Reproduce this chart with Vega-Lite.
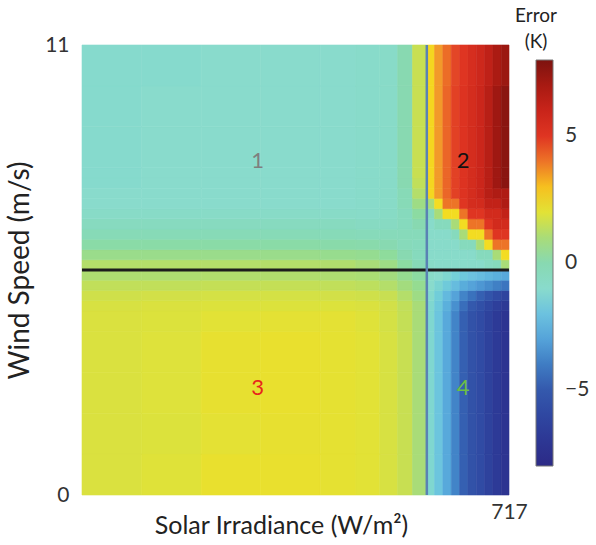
{
"$schema": "https://vega.github.io/schema/vega-lite/v6.json",
"width": 427, "height": 450,
"autosize": {"type": "none"},
"padding": {"left": 82, "top": 45, "right": 87, "bottom": 50},
"background": "white",
"config": {"view": {"stroke": null}, "font": "Lato"},
"layer": [
{
"data": {"values": [
{"x0":0,"x1":100,"y0":0,"y1":1,"e":1.85},{"x0":100,"x1":200,"y0":0,"y1":1,"e":1.95},{"x0":200,"x1":300,"y0":0,"y1":1,"e":2.2},{"x0":300,"x1":400,"y0":0,"y1":1,"e":2.2},{"x0":400,"x1":460,"y0":0,"y1":1,"e":2.1},{"x0":460,"x1":500,"y0":0,"y1":1,"e":2.0},{"x0":500,"x1":530,"y0":0,"y1":1,"e":1.8},{"x0":530,"x1":555,"y0":0,"y1":1,"e":1.5},{"x0":555,"x1":579,"y0":0,"y1":1,"e":1.0},{"x0":579,"x1":592,"y0":0,"y1":1,"e":-1.2},{"x0":592,"x1":606,"y0":0,"y1":1,"e":-1.9},{"x0":606,"x1":620,"y0":0,"y1":1,"e":-2.8},{"x0":620,"x1":634,"y0":0,"y1":1,"e":-3.8},{"x0":634,"x1":648,"y0":0,"y1":1,"e":-4.8},{"x0":648,"x1":662,"y0":0,"y1":1,"e":-5.4},{"x0":662,"x1":676,"y0":0,"y1":1,"e":-5.8},{"x0":676,"x1":690,"y0":0,"y1":1,"e":-6.3},{"x0":690,"x1":704,"y0":0,"y1":1,"e":-6.8},{"x0":704,"x1":717,"y0":0,"y1":1,"e":-7.2},
{"x0":0,"x1":100,"y0":1,"y1":2,"e":1.85},{"x0":100,"x1":200,"y0":1,"y1":2,"e":1.9},{"x0":200,"x1":300,"y0":1,"y1":2,"e":2.05},{"x0":300,"x1":400,"y0":1,"y1":2,"e":2.15},{"x0":400,"x1":460,"y0":1,"y1":2,"e":2.1},{"x0":460,"x1":500,"y0":1,"y1":2,"e":2.0},{"x0":500,"x1":530,"y0":1,"y1":2,"e":1.8},{"x0":530,"x1":555,"y0":1,"y1":2,"e":1.5},{"x0":555,"x1":579,"y0":1,"y1":2,"e":1.0},{"x0":579,"x1":592,"y0":1,"y1":2,"e":-1.2},{"x0":592,"x1":606,"y0":1,"y1":2,"e":-1.9},{"x0":606,"x1":620,"y0":1,"y1":2,"e":-2.8},{"x0":620,"x1":634,"y0":1,"y1":2,"e":-3.8},{"x0":634,"x1":648,"y0":1,"y1":2,"e":-4.8},{"x0":648,"x1":662,"y0":1,"y1":2,"e":-5.4},{"x0":662,"x1":676,"y0":1,"y1":2,"e":-5.8},{"x0":676,"x1":690,"y0":1,"y1":2,"e":-6.3},{"x0":690,"x1":704,"y0":1,"y1":2,"e":-6.8},{"x0":704,"x1":717,"y0":1,"y1":2,"e":-7.2},
{"x0":0,"x1":100,"y0":2,"y1":3,"e":1.85},{"x0":100,"x1":200,"y0":2,"y1":3,"e":1.92},{"x0":200,"x1":300,"y0":2,"y1":3,"e":2.15},{"x0":300,"x1":400,"y0":2,"y1":3,"e":2.2},{"x0":400,"x1":460,"y0":2,"y1":3,"e":2.1},{"x0":460,"x1":500,"y0":2,"y1":3,"e":2.0},{"x0":500,"x1":530,"y0":2,"y1":3,"e":1.8},{"x0":530,"x1":555,"y0":2,"y1":3,"e":1.5},{"x0":555,"x1":579,"y0":2,"y1":3,"e":1.0},{"x0":579,"x1":592,"y0":2,"y1":3,"e":-1.2},{"x0":592,"x1":606,"y0":2,"y1":3,"e":-1.9},{"x0":606,"x1":620,"y0":2,"y1":3,"e":-2.8},{"x0":620,"x1":634,"y0":2,"y1":3,"e":-3.8},{"x0":634,"x1":648,"y0":2,"y1":3,"e":-4.8},{"x0":648,"x1":662,"y0":2,"y1":3,"e":-5.4},{"x0":662,"x1":676,"y0":2,"y1":3,"e":-5.8},{"x0":676,"x1":690,"y0":2,"y1":3,"e":-6.3},{"x0":690,"x1":704,"y0":2,"y1":3,"e":-6.8},{"x0":704,"x1":717,"y0":2,"y1":3,"e":-7.2},
{"x0":0,"x1":100,"y0":3,"y1":4,"e":1.85},{"x0":100,"x1":200,"y0":3,"y1":4,"e":1.92},{"x0":200,"x1":300,"y0":3,"y1":4,"e":2.15},{"x0":300,"x1":400,"y0":3,"y1":4,"e":2.2},{"x0":400,"x1":460,"y0":3,"y1":4,"e":2.1},{"x0":460,"x1":500,"y0":3,"y1":4,"e":2.0},{"x0":500,"x1":530,"y0":3,"y1":4,"e":1.8},{"x0":530,"x1":555,"y0":3,"y1":4,"e":1.5},{"x0":555,"x1":579,"y0":3,"y1":4,"e":1.0},{"x0":579,"x1":592,"y0":3,"y1":4,"e":-1.2},{"x0":592,"x1":606,"y0":3,"y1":4,"e":-1.9},{"x0":606,"x1":620,"y0":3,"y1":4,"e":-2.8},{"x0":620,"x1":634,"y0":3,"y1":4,"e":-3.8},{"x0":634,"x1":648,"y0":3,"y1":4,"e":-4.8},{"x0":648,"x1":662,"y0":3,"y1":4,"e":-5.4},{"x0":662,"x1":676,"y0":3,"y1":4,"e":-5.8},{"x0":676,"x1":690,"y0":3,"y1":4,"e":-6.3},{"x0":690,"x1":704,"y0":3,"y1":4,"e":-6.8},{"x0":704,"x1":717,"y0":3,"y1":4,"e":-7.2},
{"x0":0,"x1":100,"y0":4,"y1":4.5,"e":1.85},{"x0":100,"x1":200,"y0":4,"y1":4.5,"e":1.9},{"x0":200,"x1":300,"y0":4,"y1":4.5,"e":2.0},{"x0":300,"x1":400,"y0":4,"y1":4.5,"e":2.05},{"x0":400,"x1":460,"y0":4,"y1":4.5,"e":2.05},{"x0":460,"x1":500,"y0":4,"y1":4.5,"e":1.95},{"x0":500,"x1":530,"y0":4,"y1":4.5,"e":1.75},{"x0":530,"x1":555,"y0":4,"y1":4.5,"e":1.45},{"x0":555,"x1":579,"y0":4,"y1":4.5,"e":1.0},{"x0":579,"x1":592,"y0":4,"y1":4.5,"e":-1.2},{"x0":592,"x1":606,"y0":4,"y1":4.5,"e":-1.9},{"x0":606,"x1":620,"y0":4,"y1":4.5,"e":-2.8},{"x0":620,"x1":634,"y0":4,"y1":4.5,"e":-3.8},{"x0":634,"x1":648,"y0":4,"y1":4.5,"e":-4.8},{"x0":648,"x1":662,"y0":4,"y1":4.5,"e":-5.4},{"x0":662,"x1":676,"y0":4,"y1":4.5,"e":-5.8},{"x0":676,"x1":690,"y0":4,"y1":4.5,"e":-6.3},{"x0":690,"x1":704,"y0":4,"y1":4.5,"e":-6.8},{"x0":704,"x1":717,"y0":4,"y1":4.5,"e":-7.2},
{"x0":0,"x1":100,"y0":4.5,"y1":4.75,"e":1.8},{"x0":100,"x1":200,"y0":4.5,"y1":4.75,"e":1.85},{"x0":200,"x1":300,"y0":4.5,"y1":4.75,"e":1.9},{"x0":300,"x1":400,"y0":4.5,"y1":4.75,"e":1.9},{"x0":400,"x1":460,"y0":4.5,"y1":4.75,"e":1.9},{"x0":460,"x1":500,"y0":4.5,"y1":4.75,"e":1.85},{"x0":500,"x1":530,"y0":4.5,"y1":4.75,"e":1.7},{"x0":530,"x1":555,"y0":4.5,"y1":4.75,"e":1.4},{"x0":555,"x1":579,"y0":4.5,"y1":4.75,"e":1.0},{"x0":579,"x1":592,"y0":4.5,"y1":4.75,"e":-1.2},{"x0":592,"x1":606,"y0":4.5,"y1":4.75,"e":-1.8},{"x0":606,"x1":620,"y0":4.5,"y1":4.75,"e":-2.6},{"x0":620,"x1":634,"y0":4.5,"y1":4.75,"e":-3.5},{"x0":634,"x1":648,"y0":4.5,"y1":4.75,"e":-4.4},{"x0":648,"x1":662,"y0":4.5,"y1":4.75,"e":-5.0},{"x0":662,"x1":676,"y0":4.5,"y1":4.75,"e":-5.5},{"x0":676,"x1":690,"y0":4.5,"y1":4.75,"e":-6.0},{"x0":690,"x1":704,"y0":4.5,"y1":4.75,"e":-6.5},{"x0":704,"x1":717,"y0":4.5,"y1":4.75,"e":-6.9},
{"x0":0,"x1":100,"y0":4.75,"y1":5,"e":1.65},{"x0":100,"x1":200,"y0":4.75,"y1":5,"e":1.7},{"x0":200,"x1":300,"y0":4.75,"y1":5,"e":1.75},{"x0":300,"x1":400,"y0":4.75,"y1":5,"e":1.75},{"x0":400,"x1":460,"y0":4.75,"y1":5,"e":1.7},{"x0":460,"x1":500,"y0":4.75,"y1":5,"e":1.65},{"x0":500,"x1":530,"y0":4.75,"y1":5,"e":1.5},{"x0":530,"x1":555,"y0":4.75,"y1":5,"e":1.2},{"x0":555,"x1":579,"y0":4.75,"y1":5,"e":0.8},{"x0":579,"x1":592,"y0":4.75,"y1":5,"e":-1.1},{"x0":592,"x1":606,"y0":4.75,"y1":5,"e":-1.6},{"x0":606,"x1":620,"y0":4.75,"y1":5,"e":-2.3},{"x0":620,"x1":634,"y0":4.75,"y1":5,"e":-3.0},{"x0":634,"x1":648,"y0":4.75,"y1":5,"e":-3.8},{"x0":648,"x1":662,"y0":4.75,"y1":5,"e":-4.3},{"x0":662,"x1":676,"y0":4.75,"y1":5,"e":-4.8},{"x0":676,"x1":690,"y0":4.75,"y1":5,"e":-5.3},{"x0":690,"x1":704,"y0":4.75,"y1":5,"e":-5.8},{"x0":704,"x1":717,"y0":4.75,"y1":5,"e":-6.2},
{"x0":0,"x1":100,"y0":5,"y1":5.25,"e":1.4},{"x0":100,"x1":200,"y0":5,"y1":5.25,"e":1.4},{"x0":200,"x1":300,"y0":5,"y1":5.25,"e":1.45},{"x0":300,"x1":400,"y0":5,"y1":5.25,"e":1.45},{"x0":400,"x1":460,"y0":5,"y1":5.25,"e":1.4},{"x0":460,"x1":500,"y0":5,"y1":5.25,"e":1.35},{"x0":500,"x1":530,"y0":5,"y1":5.25,"e":1.2},{"x0":530,"x1":555,"y0":5,"y1":5.25,"e":0.9},{"x0":555,"x1":579,"y0":5,"y1":5.25,"e":0.6},{"x0":579,"x1":592,"y0":5,"y1":5.25,"e":-1.0},{"x0":592,"x1":606,"y0":5,"y1":5.25,"e":-1.3},{"x0":606,"x1":620,"y0":5,"y1":5.25,"e":-1.7},{"x0":620,"x1":634,"y0":5,"y1":5.25,"e":-2.2},{"x0":634,"x1":648,"y0":5,"y1":5.25,"e":-2.7},{"x0":648,"x1":662,"y0":5,"y1":5.25,"e":-3.0},{"x0":662,"x1":676,"y0":5,"y1":5.25,"e":-3.3},{"x0":676,"x1":690,"y0":5,"y1":5.25,"e":-3.6},{"x0":690,"x1":704,"y0":5,"y1":5.25,"e":-3.9},{"x0":704,"x1":717,"y0":5,"y1":5.25,"e":-4.2},
{"x0":0,"x1":100,"y0":5.25,"y1":5.5,"e":1.1},{"x0":100,"x1":200,"y0":5.25,"y1":5.5,"e":1.1},{"x0":200,"x1":300,"y0":5.25,"y1":5.5,"e":1.15},{"x0":300,"x1":400,"y0":5.25,"y1":5.5,"e":1.15},{"x0":400,"x1":460,"y0":5.25,"y1":5.5,"e":1.1},{"x0":460,"x1":500,"y0":5.25,"y1":5.5,"e":1.05},{"x0":500,"x1":530,"y0":5.25,"y1":5.5,"e":0.9},{"x0":530,"x1":555,"y0":5.25,"y1":5.5,"e":0.6},{"x0":555,"x1":579,"y0":5.25,"y1":5.5,"e":0.3},{"x0":579,"x1":592,"y0":5.25,"y1":5.5,"e":-0.8},{"x0":592,"x1":606,"y0":5.25,"y1":5.5,"e":-1.0},{"x0":606,"x1":620,"y0":5.25,"y1":5.5,"e":-1.2},{"x0":620,"x1":634,"y0":5.25,"y1":5.5,"e":-1.5},{"x0":634,"x1":648,"y0":5.25,"y1":5.5,"e":-1.8},{"x0":648,"x1":662,"y0":5.25,"y1":5.5,"e":-2.0},{"x0":662,"x1":676,"y0":5.25,"y1":5.5,"e":-2.2},{"x0":676,"x1":690,"y0":5.25,"y1":5.5,"e":-2.4},{"x0":690,"x1":704,"y0":5.25,"y1":5.5,"e":-2.6},{"x0":704,"x1":717,"y0":5.25,"y1":5.5,"e":-2.8},
{"x0":0,"x1":100,"y0":5.5,"y1":5.75,"e":1.2},{"x0":100,"x1":200,"y0":5.5,"y1":5.75,"e":1.2},{"x0":200,"x1":300,"y0":5.5,"y1":5.75,"e":1.2},{"x0":300,"x1":400,"y0":5.5,"y1":5.75,"e":1.2},{"x0":400,"x1":460,"y0":5.5,"y1":5.75,"e":1.15},{"x0":460,"x1":500,"y0":5.5,"y1":5.75,"e":1.0},{"x0":500,"x1":530,"y0":5.5,"y1":5.75,"e":0.8},{"x0":530,"x1":555,"y0":5.5,"y1":5.75,"e":0.3},{"x0":555,"x1":579,"y0":5.5,"y1":5.75,"e":-0.2},{"x0":579,"x1":592,"y0":5.5,"y1":5.75,"e":-0.8},{"x0":592,"x1":606,"y0":5.5,"y1":5.75,"e":-0.9},{"x0":606,"x1":620,"y0":5.5,"y1":5.75,"e":-0.9},{"x0":620,"x1":634,"y0":5.5,"y1":5.75,"e":-0.9},{"x0":634,"x1":648,"y0":5.5,"y1":5.75,"e":-0.9},{"x0":648,"x1":662,"y0":5.5,"y1":5.75,"e":-0.9},{"x0":662,"x1":676,"y0":5.5,"y1":5.75,"e":-0.9},{"x0":676,"x1":690,"y0":5.5,"y1":5.75,"e":-0.6},{"x0":690,"x1":704,"y0":5.5,"y1":5.75,"e":-0.4},{"x0":704,"x1":717,"y0":5.5,"y1":5.75,"e":1.0},
{"x0":0,"x1":100,"y0":5.75,"y1":6,"e":0.7},{"x0":100,"x1":200,"y0":5.75,"y1":6,"e":0.7},{"x0":200,"x1":300,"y0":5.75,"y1":6,"e":0.7},{"x0":300,"x1":400,"y0":5.75,"y1":6,"e":0.7},{"x0":400,"x1":460,"y0":5.75,"y1":6,"e":0.65},{"x0":460,"x1":500,"y0":5.75,"y1":6,"e":0.6},{"x0":500,"x1":530,"y0":5.75,"y1":6,"e":0.4},{"x0":530,"x1":555,"y0":5.75,"y1":6,"e":0.0},{"x0":555,"x1":579,"y0":5.75,"y1":6,"e":-0.4},{"x0":579,"x1":592,"y0":5.75,"y1":6,"e":-0.9},{"x0":592,"x1":606,"y0":5.75,"y1":6,"e":-0.9},{"x0":606,"x1":620,"y0":5.75,"y1":6,"e":-0.9},{"x0":620,"x1":634,"y0":5.75,"y1":6,"e":-0.9},{"x0":634,"x1":648,"y0":5.75,"y1":6,"e":-0.9},{"x0":648,"x1":662,"y0":5.75,"y1":6,"e":-0.9},{"x0":662,"x1":676,"y0":5.75,"y1":6,"e":-0.4},{"x0":676,"x1":690,"y0":5.75,"y1":6,"e":-0.4},{"x0":690,"x1":704,"y0":5.75,"y1":6,"e":1.0},{"x0":704,"x1":717,"y0":5.75,"y1":6,"e":2.5},
{"x0":0,"x1":100,"y0":6,"y1":6.25,"e":0.2},{"x0":100,"x1":200,"y0":6,"y1":6.25,"e":0.2},{"x0":200,"x1":300,"y0":6,"y1":6.25,"e":0.2},{"x0":300,"x1":400,"y0":6,"y1":6.25,"e":0.2},{"x0":400,"x1":460,"y0":6,"y1":6.25,"e":0.15},{"x0":460,"x1":500,"y0":6,"y1":6.25,"e":0.1},{"x0":500,"x1":530,"y0":6,"y1":6.25,"e":0.0},{"x0":530,"x1":555,"y0":6,"y1":6.25,"e":-0.3},{"x0":555,"x1":579,"y0":6,"y1":6.25,"e":-0.4},{"x0":579,"x1":592,"y0":6,"y1":6.25,"e":-0.9},{"x0":592,"x1":606,"y0":6,"y1":6.25,"e":-0.9},{"x0":606,"x1":620,"y0":6,"y1":6.25,"e":-0.9},{"x0":620,"x1":634,"y0":6,"y1":6.25,"e":-0.9},{"x0":634,"x1":648,"y0":6,"y1":6.25,"e":-0.4},{"x0":648,"x1":662,"y0":6,"y1":6.25,"e":-0.4},{"x0":662,"x1":676,"y0":6,"y1":6.25,"e":1.0},{"x0":676,"x1":690,"y0":6,"y1":6.25,"e":2.5},{"x0":690,"x1":704,"y0":6,"y1":6.25,"e":4.0},{"x0":704,"x1":717,"y0":6,"y1":6.25,"e":4.0},
{"x0":0,"x1":100,"y0":6.25,"y1":6.5,"e":-0.2},{"x0":100,"x1":200,"y0":6.25,"y1":6.5,"e":-0.2},{"x0":200,"x1":300,"y0":6.25,"y1":6.5,"e":-0.2},{"x0":300,"x1":400,"y0":6.25,"y1":6.5,"e":-0.2},{"x0":400,"x1":460,"y0":6.25,"y1":6.5,"e":-0.25},{"x0":460,"x1":500,"y0":6.25,"y1":6.5,"e":-0.3},{"x0":500,"x1":530,"y0":6.25,"y1":6.5,"e":-0.3},{"x0":530,"x1":555,"y0":6.25,"y1":6.5,"e":-0.3},{"x0":555,"x1":579,"y0":6.25,"y1":6.5,"e":-0.3},{"x0":579,"x1":592,"y0":6.25,"y1":6.5,"e":-0.9},{"x0":592,"x1":606,"y0":6.25,"y1":6.5,"e":-0.9},{"x0":606,"x1":620,"y0":6.25,"y1":6.5,"e":-0.9},{"x0":620,"x1":634,"y0":6.25,"y1":6.5,"e":-0.4},{"x0":634,"x1":648,"y0":6.25,"y1":6.5,"e":1.0},{"x0":648,"x1":662,"y0":6.25,"y1":6.5,"e":2.5},{"x0":662,"x1":676,"y0":6.25,"y1":6.5,"e":2.5},{"x0":676,"x1":690,"y0":6.25,"y1":6.5,"e":4.0},{"x0":690,"x1":704,"y0":6.25,"y1":6.5,"e":5.0},{"x0":704,"x1":717,"y0":6.25,"y1":6.5,"e":5.0},
{"x0":0,"x1":100,"y0":6.5,"y1":6.75,"e":-0.5},{"x0":100,"x1":200,"y0":6.5,"y1":6.75,"e":-0.5},{"x0":200,"x1":300,"y0":6.5,"y1":6.75,"e":-0.5},{"x0":300,"x1":400,"y0":6.5,"y1":6.75,"e":-0.5},{"x0":400,"x1":460,"y0":6.5,"y1":6.75,"e":-0.5},{"x0":460,"x1":500,"y0":6.5,"y1":6.75,"e":-0.6},{"x0":500,"x1":530,"y0":6.5,"y1":6.75,"e":-0.6},{"x0":530,"x1":555,"y0":6.5,"y1":6.75,"e":-0.4},{"x0":555,"x1":579,"y0":6.5,"y1":6.75,"e":0.0},{"x0":579,"x1":592,"y0":6.5,"y1":6.75,"e":-0.9},{"x0":592,"x1":606,"y0":6.5,"y1":6.75,"e":-0.4},{"x0":606,"x1":620,"y0":6.5,"y1":6.75,"e":-0.4},{"x0":620,"x1":634,"y0":6.5,"y1":6.75,"e":1.0},{"x0":634,"x1":648,"y0":6.5,"y1":6.75,"e":2.5},{"x0":648,"x1":662,"y0":6.5,"y1":6.75,"e":4.0},{"x0":662,"x1":676,"y0":6.5,"y1":6.75,"e":4.0},{"x0":676,"x1":690,"y0":6.5,"y1":6.75,"e":5.0},{"x0":690,"x1":704,"y0":6.5,"y1":6.75,"e":5.6},{"x0":704,"x1":717,"y0":6.5,"y1":6.75,"e":5.6},
{"x0":0,"x1":100,"y0":6.75,"y1":7,"e":-0.8},{"x0":100,"x1":200,"y0":6.75,"y1":7,"e":-0.8},{"x0":200,"x1":300,"y0":6.75,"y1":7,"e":-0.8},{"x0":300,"x1":400,"y0":6.75,"y1":7,"e":-0.8},{"x0":400,"x1":460,"y0":6.75,"y1":7,"e":-0.8},{"x0":460,"x1":500,"y0":6.75,"y1":7,"e":-0.85},{"x0":500,"x1":530,"y0":6.75,"y1":7,"e":-0.7},{"x0":530,"x1":555,"y0":6.75,"y1":7,"e":-0.4},{"x0":555,"x1":579,"y0":6.75,"y1":7,"e":0.3},{"x0":579,"x1":592,"y0":6.75,"y1":7,"e":-0.4},{"x0":592,"x1":606,"y0":6.75,"y1":7,"e":1.0},{"x0":606,"x1":620,"y0":6.75,"y1":7,"e":2.5},{"x0":620,"x1":634,"y0":6.75,"y1":7,"e":2.5},{"x0":634,"x1":648,"y0":6.75,"y1":7,"e":4.0},{"x0":648,"x1":662,"y0":6.75,"y1":7,"e":5.0},{"x0":662,"x1":676,"y0":6.75,"y1":7,"e":5.0},{"x0":676,"x1":690,"y0":6.75,"y1":7,"e":5.6},{"x0":690,"x1":704,"y0":6.75,"y1":7,"e":5.6},{"x0":704,"x1":717,"y0":6.75,"y1":7,"e":6.2},
{"x0":0,"x1":100,"y0":7,"y1":7.25,"e":-1.0},{"x0":100,"x1":200,"y0":7,"y1":7.25,"e":-1.0},{"x0":200,"x1":300,"y0":7,"y1":7.25,"e":-1.0},{"x0":300,"x1":400,"y0":7,"y1":7.25,"e":-1.0},{"x0":400,"x1":460,"y0":7,"y1":7.25,"e":-1.0},{"x0":460,"x1":500,"y0":7,"y1":7.25,"e":-0.9},{"x0":500,"x1":530,"y0":7,"y1":7.25,"e":-0.8},{"x0":530,"x1":555,"y0":7,"y1":7.25,"e":-0.2},{"x0":555,"x1":579,"y0":7,"y1":7.25,"e":0.8},{"x0":579,"x1":592,"y0":7,"y1":7.25,"e":1.0},{"x0":592,"x1":606,"y0":7,"y1":7.25,"e":2.5},{"x0":606,"x1":620,"y0":7,"y1":7.25,"e":4.0},{"x0":620,"x1":634,"y0":7,"y1":7.25,"e":4.0},{"x0":634,"x1":648,"y0":7,"y1":7.25,"e":5.0},{"x0":648,"x1":662,"y0":7,"y1":7.25,"e":5.5},{"x0":662,"x1":676,"y0":7,"y1":7.25,"e":5.6},{"x0":676,"x1":690,"y0":7,"y1":7.25,"e":6.2},{"x0":690,"x1":704,"y0":7,"y1":7.25,"e":6.2},{"x0":704,"x1":717,"y0":7,"y1":7.25,"e":6.8},
{"x0":0,"x1":100,"y0":7.25,"y1":7.5,"e":-1.0},{"x0":100,"x1":200,"y0":7.25,"y1":7.5,"e":-1.0},{"x0":200,"x1":300,"y0":7.25,"y1":7.5,"e":-1.0},{"x0":300,"x1":400,"y0":7.25,"y1":7.5,"e":-1.0},{"x0":400,"x1":460,"y0":7.25,"y1":7.5,"e":-1.0},{"x0":460,"x1":500,"y0":7.25,"y1":7.5,"e":-0.9},{"x0":500,"x1":530,"y0":7.25,"y1":7.5,"e":-0.8},{"x0":530,"x1":555,"y0":7.25,"y1":7.5,"e":-0.2},{"x0":555,"x1":579,"y0":7.25,"y1":7.5,"e":1.2},{"x0":579,"x1":592,"y0":7.25,"y1":7.5,"e":2.6},{"x0":592,"x1":606,"y0":7.25,"y1":7.5,"e":3.5},{"x0":606,"x1":620,"y0":7.25,"y1":7.5,"e":4.2},{"x0":620,"x1":634,"y0":7.25,"y1":7.5,"e":4.8},{"x0":634,"x1":648,"y0":7.25,"y1":7.5,"e":5.1},{"x0":648,"x1":662,"y0":7.25,"y1":7.5,"e":5.5},{"x0":662,"x1":676,"y0":7.25,"y1":7.5,"e":5.9},{"x0":676,"x1":690,"y0":7.25,"y1":7.5,"e":6.5},{"x0":690,"x1":704,"y0":7.25,"y1":7.5,"e":6.8},{"x0":704,"x1":717,"y0":7.25,"y1":7.5,"e":6.8},
{"x0":0,"x1":100,"y0":7.5,"y1":7.75,"e":-1.05},{"x0":100,"x1":200,"y0":7.5,"y1":7.75,"e":-1.0},{"x0":200,"x1":300,"y0":7.5,"y1":7.75,"e":-1.0},{"x0":300,"x1":400,"y0":7.5,"y1":7.75,"e":-1.0},{"x0":400,"x1":460,"y0":7.5,"y1":7.75,"e":-1.0},{"x0":460,"x1":500,"y0":7.5,"y1":7.75,"e":-0.9},{"x0":500,"x1":530,"y0":7.5,"y1":7.75,"e":-0.85},{"x0":530,"x1":555,"y0":7.5,"y1":7.75,"e":0.0},{"x0":555,"x1":579,"y0":7.5,"y1":7.75,"e":1.4},{"x0":579,"x1":592,"y0":7.5,"y1":7.75,"e":2.6},{"x0":592,"x1":606,"y0":7.5,"y1":7.75,"e":3.5},{"x0":606,"x1":620,"y0":7.5,"y1":7.75,"e":4.2},{"x0":620,"x1":634,"y0":7.5,"y1":7.75,"e":4.8},{"x0":634,"x1":648,"y0":7.5,"y1":7.75,"e":5.1},{"x0":648,"x1":662,"y0":7.5,"y1":7.75,"e":5.5},{"x0":662,"x1":676,"y0":7.5,"y1":7.75,"e":5.9},{"x0":676,"x1":690,"y0":7.5,"y1":7.75,"e":6.5},{"x0":690,"x1":704,"y0":7.5,"y1":7.75,"e":7.2},{"x0":704,"x1":717,"y0":7.5,"y1":7.75,"e":7.7},
{"x0":0,"x1":100,"y0":7.75,"y1":8,"e":-1.05},{"x0":100,"x1":200,"y0":7.75,"y1":8,"e":-1.0},{"x0":200,"x1":300,"y0":7.75,"y1":8,"e":-1.0},{"x0":300,"x1":400,"y0":7.75,"y1":8,"e":-1.0},{"x0":400,"x1":460,"y0":7.75,"y1":8,"e":-1.0},{"x0":460,"x1":500,"y0":7.75,"y1":8,"e":-0.9},{"x0":500,"x1":530,"y0":7.75,"y1":8,"e":-0.85},{"x0":530,"x1":555,"y0":7.75,"y1":8,"e":0.0},{"x0":555,"x1":579,"y0":7.75,"y1":8,"e":1.5},{"x0":579,"x1":592,"y0":7.75,"y1":8,"e":2.6},{"x0":592,"x1":606,"y0":7.75,"y1":8,"e":3.5},{"x0":606,"x1":620,"y0":7.75,"y1":8,"e":4.2},{"x0":620,"x1":634,"y0":7.75,"y1":8,"e":4.8},{"x0":634,"x1":648,"y0":7.75,"y1":8,"e":5.1},{"x0":648,"x1":662,"y0":7.75,"y1":8,"e":5.5},{"x0":662,"x1":676,"y0":7.75,"y1":8,"e":5.9},{"x0":676,"x1":690,"y0":7.75,"y1":8,"e":6.5},{"x0":690,"x1":704,"y0":7.75,"y1":8,"e":7.2},{"x0":704,"x1":717,"y0":7.75,"y1":8,"e":7.7},
{"x0":0,"x1":100,"y0":8,"y1":9,"e":-1.05},{"x0":100,"x1":200,"y0":8,"y1":9,"e":-1.0},{"x0":200,"x1":300,"y0":8,"y1":9,"e":-1.0},{"x0":300,"x1":400,"y0":8,"y1":9,"e":-1.0},{"x0":400,"x1":460,"y0":8,"y1":9,"e":-1.0},{"x0":460,"x1":500,"y0":8,"y1":9,"e":-0.9},{"x0":500,"x1":530,"y0":8,"y1":9,"e":-0.85},{"x0":530,"x1":555,"y0":8,"y1":9,"e":0.0},{"x0":555,"x1":579,"y0":8,"y1":9,"e":1.5},{"x0":579,"x1":592,"y0":8,"y1":9,"e":2.6},{"x0":592,"x1":606,"y0":8,"y1":9,"e":3.5},{"x0":606,"x1":620,"y0":8,"y1":9,"e":4.2},{"x0":620,"x1":634,"y0":8,"y1":9,"e":4.8},{"x0":634,"x1":648,"y0":8,"y1":9,"e":5.1},{"x0":648,"x1":662,"y0":8,"y1":9,"e":5.5},{"x0":662,"x1":676,"y0":8,"y1":9,"e":5.9},{"x0":676,"x1":690,"y0":8,"y1":9,"e":6.5},{"x0":690,"x1":704,"y0":8,"y1":9,"e":7.2},{"x0":704,"x1":717,"y0":8,"y1":9,"e":7.7},
{"x0":0,"x1":100,"y0":9,"y1":10,"e":-1.05},{"x0":100,"x1":200,"y0":9,"y1":10,"e":-1.0},{"x0":200,"x1":300,"y0":9,"y1":10,"e":-1.0},{"x0":300,"x1":400,"y0":9,"y1":10,"e":-1.0},{"x0":400,"x1":460,"y0":9,"y1":10,"e":-1.0},{"x0":460,"x1":500,"y0":9,"y1":10,"e":-0.9},{"x0":500,"x1":530,"y0":9,"y1":10,"e":-0.85},{"x0":530,"x1":555,"y0":9,"y1":10,"e":0.0},{"x0":555,"x1":579,"y0":9,"y1":10,"e":1.5},{"x0":579,"x1":592,"y0":9,"y1":10,"e":2.6},{"x0":592,"x1":606,"y0":9,"y1":10,"e":3.5},{"x0":606,"x1":620,"y0":9,"y1":10,"e":4.2},{"x0":620,"x1":634,"y0":9,"y1":10,"e":4.8},{"x0":634,"x1":648,"y0":9,"y1":10,"e":5.1},{"x0":648,"x1":662,"y0":9,"y1":10,"e":5.5},{"x0":662,"x1":676,"y0":9,"y1":10,"e":5.9},{"x0":676,"x1":690,"y0":9,"y1":10,"e":6.5},{"x0":690,"x1":704,"y0":9,"y1":10,"e":7.2},{"x0":704,"x1":717,"y0":9,"y1":10,"e":7.7},
{"x0":0,"x1":100,"y0":10,"y1":11,"e":-1.05},{"x0":100,"x1":200,"y0":10,"y1":11,"e":-1.05},{"x0":200,"x1":300,"y0":10,"y1":11,"e":-1.0},{"x0":300,"x1":400,"y0":10,"y1":11,"e":-1.0},{"x0":400,"x1":460,"y0":10,"y1":11,"e":-1.0},{"x0":460,"x1":500,"y0":10,"y1":11,"e":-0.9},{"x0":500,"x1":530,"y0":10,"y1":11,"e":-0.85},{"x0":530,"x1":555,"y0":10,"y1":11,"e":0.0},{"x0":555,"x1":579,"y0":10,"y1":11,"e":1.5},{"x0":579,"x1":592,"y0":10,"y1":11,"e":2.6},{"x0":592,"x1":606,"y0":10,"y1":11,"e":3.5},{"x0":606,"x1":620,"y0":10,"y1":11,"e":4.1},{"x0":620,"x1":634,"y0":10,"y1":11,"e":4.7},{"x0":634,"x1":648,"y0":10,"y1":11,"e":5.0},{"x0":648,"x1":662,"y0":10,"y1":11,"e":5.4},{"x0":662,"x1":676,"y0":10,"y1":11,"e":5.8},{"x0":676,"x1":690,"y0":10,"y1":11,"e":6.3},{"x0":690,"x1":704,"y0":10,"y1":11,"e":6.9},{"x0":704,"x1":717,"y0":10,"y1":11,"e":7.3}
]},
"mark": {"type": "rect", "strokeWidth": 0.6},
"encoding": {
"x": {"field": "x0", "type": "quantitative", "scale": {"domain": [0, 717], "nice": false, "zero": false},
"axis": {"values": [717], "title": "Solar Irradiance (W/m²)", "grid": false, "domain": false, "ticks": false, "labelFlush": false, "labelFontSize": 21, "labelPadding": 6, "labelColor": "#333", "titleFontSize": 25, "titleFontWeight": "normal", "titleColor": "#222", "titleX": 199, "titleY": 38, "titleBaseline": "alphabetic"}},
"x2": {"field": "x1"},
"y": {"field": "y0", "type": "quantitative", "scale": {"domain": [0, 11], "nice": false, "zero": false},
"axis": {"values": [0, 11], "title": "Wind Speed (m/s)", "grid": false, "domain": false, "ticks": false, "labelFlush": false, "labelFontSize": 21, "labelPadding": 13, "labelColor": "#333", "titleFontSize": 28, "titleFontWeight": "normal", "titleColor": "#222", "titlePadding": 10}},
"y2": {"field": "y1"},
"color": {"field": "e", "type": "quantitative",
"scale": {"domain": [-8,-7,-6,-5,-4,-3,-2,-1,0,1,1.5,2,2.5,3,3.5,4,4.5,5,6,7,8],
"range": ["#2c2a86","#2d3794","#2f47a1","#3459ad","#3f7cc3","#55a3d9","#6cc2df","#89dbcc","#88d9b1","#a9dc78","#c8df52","#e2e236","#f3dc22","#f6c01f","#f29a2a","#ed7427","#e6502a","#df3522","#c9241a","#a81a12","#7d130f"]},
"legend": {"orient": "none", "legendX": 433, "legendY": -38, "direction": "vertical", "gradientLength": 406, "gradientThickness": 17, "values": [-5, 0, 5], "title": ["Error", "(K)"], "titleFontSize": 19, "titleFontWeight": "normal", "titleLineHeight": 26, "titlePadding": 8, "titleAnchor": "start", "titleAlign": "center", "titleColor": "#222", "labelFontSize": 21, "labelOffset": 12, "labelColor": "#333", "gradientStrokeColor": "#777", "gradientStrokeWidth": 1}},
"stroke": {"field": "e", "type": "quantitative",
"scale": {"domain": [-8,-7,-6,-5,-4,-3,-2,-1,0,1,1.5,2,2.5,3,3.5,4,4.5,5,6,7,8],
"range": ["#2c2a86","#2d3794","#2f47a1","#3459ad","#3f7cc3","#55a3d9","#6cc2df","#89dbcc","#88d9b1","#a9dc78","#c8df52","#e2e236","#f3dc22","#f6c01f","#f29a2a","#ed7427","#e6502a","#df3522","#c9241a","#a81a12","#7d130f"]},
"legend": null}
}
},
{
"data": {"values": [{"y": 5.5}]},
"mark": {"type": "rule", "color": "#1c1c1c", "strokeWidth": 3},
"encoding": {"y": {"field": "y", "type": "quantitative"}}
},
{
"data": {"values": [{"x": 579}]},
"mark": {"type": "rule", "color": "#5a82b4", "strokeWidth": 2.5},
"encoding": {"x": {"field": "x", "type": "quantitative"}}
},
{
"data": {"values": [{"x": 295, "y": 8.16, "t": "1"}, {"x": 640, "y": 8.16, "t": "2"}, {"x": 295, "y": 2.62, "t": "3"}, {"x": 640, "y": 2.62, "t": "4"}]},
"mark": {"type": "text", "fontSize": 22, "baseline": "middle", "align": "center"},
"encoding": {
"x": {"field": "x", "type": "quantitative"},
"y": {"field": "y", "type": "quantitative"},
"text": {"field": "t"},
"color": {"field": "t", "type": "nominal", "scale": {"domain": ["1", "2", "3", "4"], "range": ["#7f7f7f", "#111111", "#e8261c", "#6cbf45"]}, "legend": null}
}
}
],
"resolve": {"scale": {"color": "independent"}}
}
